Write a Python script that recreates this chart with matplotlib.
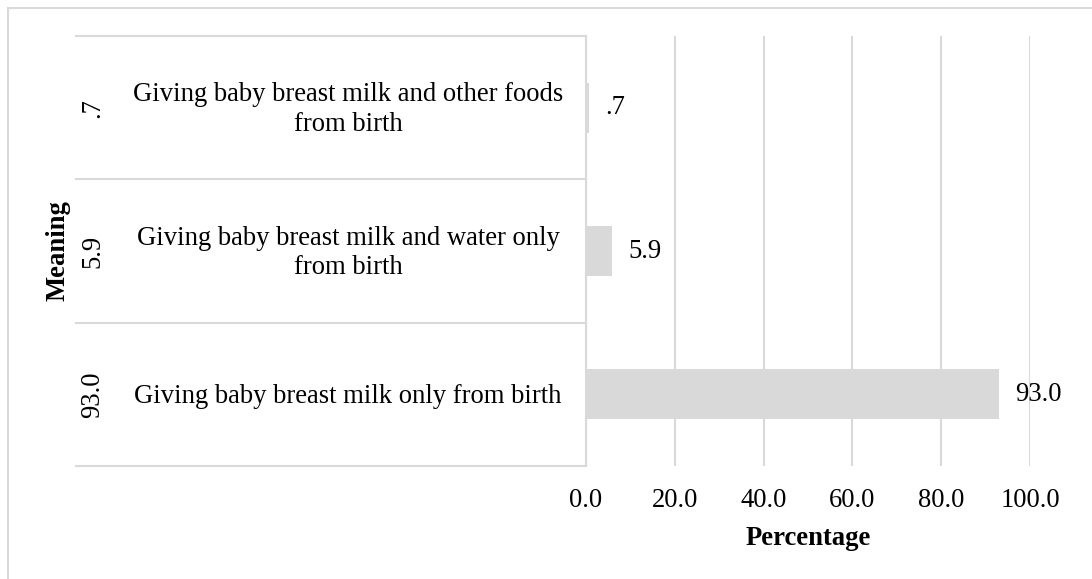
import matplotlib
matplotlib.use("Agg")
import matplotlib.pyplot as plt
from matplotlib.transforms import blended_transform_factory
from matplotlib.lines import Line2D

plt.rcParams["font.family"] = ["Liberation Serif", "DejaVu Serif"]

# Data, listed top to bottom as in the chart
categories = [
    "Giving baby breast milk and other foods\nfrom birth",
    "Giving baby breast milk and water only\nfrom birth",
    "Giving baby breast milk only from birth",
]
values = [0.7, 5.9, 93.0]
value_labels = [".7", "5.9", "93.0"]
xticks = [0, 20, 40, 60, 80, 100]

FS = 19.2
W, H = 1092, 579
fig = plt.figure(figsize=(W / 100, H / 100), dpi=100)

left_px, right_px, top_px, bot_px = 586, 1030, 36, 466
ax = fig.add_axes([left_px / W, 1 - bot_px / H,
                   (right_px - left_px) / W, (bot_px - top_px) / H])

grid_c = "#D9D9D9"
ypos = list(range(len(categories)))
ax.barh(ypos, values, height=0.35, color="#D9D9D9", zorder=3)
for y, v, lab in zip(ypos, values, value_labels):
    ax.annotate(lab, (v, y), xytext=(16, 0), textcoords="offset pixels",
                ha="left", va="center", fontsize=FS)

ax.set_xlim(0, 100)
ax.set_ylim(len(categories) - 0.5, -0.5)
ax.set_xticks(xticks)
ax.set_xticklabels([f"{t:.1f}" for t in xticks], fontsize=FS)
ax.set_yticks([])
ax.tick_params(axis="x", length=0, pad=16)
ax.grid(axis="x", color=grid_c, linewidth=1.5, zorder=0)
for s in ["top", "right", "bottom"]:
    ax.spines[s].set_visible(False)
ax.spines["left"].set_color(grid_c)
ax.spines["left"].set_linewidth(1.5)
ax.set_xlabel("Percentage", fontsize=FS, fontweight="bold", labelpad=9)

# Multi-level category labels to the left of the axis
tr = blended_transform_factory(fig.transFigure, ax.transData)
for b in [-0.5 + i for i in range(len(categories) + 1)]:
    ax.add_line(Line2D([76 / W, left_px / W], [b, b], transform=tr,
                       color=grid_c, linewidth=1.5, clip_on=False))
for y, cat, lab in zip(ypos, categories, value_labels):
    ax.annotate(cat, (348 / W, y), xycoords=tr, xytext=(0, -2),
                textcoords="offset pixels", ha="center", va="center",
                fontsize=FS, linespacing=1.25)
    ax.text(93 / W, y, lab, transform=tr, ha="center", va="center",
            fontsize=FS, rotation=90)

fig.text(58 / W, 1 - ((top_px + bot_px) / 2) / H, "Meaning", rotation=90,
         ha="center", va="center", fontsize=FS, fontweight="bold")

# Chart frame (only top and left edges visible in the crop)
fig.add_artist(Line2D([7.5 / W, 1], [1 - 7.5 / H, 1 - 7.5 / H],
                      transform=fig.transFigure, color=grid_c, linewidth=1.5))
fig.add_artist(Line2D([7.5 / W, 7.5 / W], [0, 1 - 7.5 / H],
                      transform=fig.transFigure, color=grid_c, linewidth=1.5))

fig.savefig("out.png", dpi=100, facecolor="white")
